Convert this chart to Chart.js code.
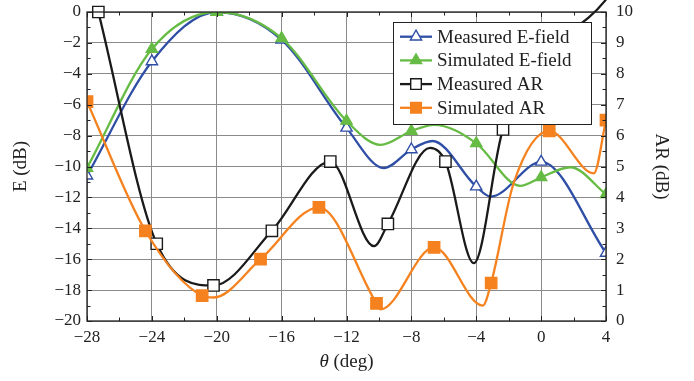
<!DOCTYPE html>
<html>
<head>
  <title>E-field and AR versus angle</title>
  <script src="https://cdn.jsdelivr.net/npm/chart.js"></script>
  <style>
    body { margin: 0; background: #fff; }
  </style>
</head>
<body>
  <canvas id="arChart" width="694" height="381"></canvas>

  <script>
    // angle axis ticks (deg)
    const thetaTicks = [-28, -24, -20, -16, -12, -8, -4, 0, 4];

    // Measured E-field (dB), 1 = marker drawn
    const measEX    = [-28, -24, -20, -16, -12, -9.7, -8, -6.7, -4, -3.1, 0, 4];
    const measEY    = [-10.6, -3.2, 0, -1.8, -7.5, -10.1, -8.9, -8.35, -11.3, -11.95, -9.7, -15.6];
    const measEMark = [1, 1, 1, 1, 1, 0, 1, 0, 1, 0, 1, 1];

    // Simulated E-field (dB)
    const simEX    = [-28, -24, -20, -16, -12, -9.9, -8, -6.6, -4, -1.3, 0, 1.8, 4];
    const simEY    = [-10.1, -2.4, 0, -1.7, -7.05, -8.6, -7.7, -7.3, -8.5, -11.25, -10.7, -10.05, -11.8];
    const simEMark = [1, 1, 1, 1, 1, 0, 1, 0, 1, 0, 1, 0, 1];

    // Measured AR (dB)
    const measARX    = [-27.3, -23.7, -20.2, -16.6, -13, -10.3, -9.45, -6.85, -5.9, -4.15, -2.35, 4];
    const measARY    = [10, 2.5, 1.15, 2.92, 5.16, 2.42, 3.14, 5.6, 5.16, 1.87, 6.2, 10.4];
    const measARMark = [1, 1, 1, 1, 1, 0, 1, 0, 1, 0, 1, 0];

    // Simulated AR (dB)
    const simARX    = [-28, -24.4, -20.9, -20.2, -17.3, -13.7, -10.15, -9.9, -6.6, -3.6, -3.08, -1.7, 0.5, 3.25, 4];
    const simARY    = [7.1, 2.92, 0.82, 0.76, 2.0, 3.68, 0.57, 0.38, 2.38, 0.5, 1.23, 4.45, 6.15, 4.78, 6.5];
    const simARMark = [1, 1, 1, 0, 1, 1, 1, 0, 1, 0, 1, 0, 1, 0, 1];

    const BLUE = '#2f4fa6';
    const GREEN = '#66bb44';
    const BLACK = '#1a1a1a';
    const ORANGE = '#f5821f';
    const FONT = "'Liberation Serif', 'Times New Roman', serif";

    function toPoints(xs, ys) {
      return xs.map((x, i) => ({ x: x, y: ys[i] }));
    }
    function radii(marks, r) {
      return marks.map(m => m ? r : 0);
    }
    function minus(v) {
      return v < 0 ? '\u2212' + Math.abs(v) : String(v);
    }
    // fixed axis widths, no extra label padding above/below the plot
    function fixWidth(w) {
      return s => { s.width = w; s.paddingTop = 0; s.paddingBottom = 0; };
    }

    // box, inward ticks on all four sides
    const frameTicks = {
      id: 'frameTicks',
      afterDatasetsDraw(chart) {
        const { ctx, chartArea: a, scales } = chart;
        ctx.save();
        ctx.strokeStyle = '#222';
        ctx.lineWidth = 1;
        const seg = (x1, y1, x2, y2) => {
          ctx.beginPath(); ctx.moveTo(x1, y1); ctx.lineTo(x2, y2); ctx.stroke();
        };
        for (let v = -28; v <= 4; v += 2) {
          const px = Math.round(scales.x.getPixelForValue(v)) + 0.5;
          const len = v % 4 === 0 ? 5 : 3.5;
          seg(px, a.bottom, px, a.bottom - len);
          seg(px, a.top, px, a.top + len);
        }
        for (let v = -20; v <= 0; v += 1) {
          const py = Math.round(scales.yE.getPixelForValue(v)) + 0.5;
          seg(a.left, py, a.left + (v % 2 === 0 ? 5 : 3.5), py);
        }
        for (let v = 0; v <= 10; v += 0.5) {
          const py = Math.round(scales.yAR.getPixelForValue(v)) + 0.5;
          seg(a.right, py, a.right - (v % 1 === 0 ? 5 : 3.5), py);
        }
        ctx.lineWidth = 1.3;
        ctx.strokeRect(a.left, a.top, a.right - a.left, a.bottom - a.top);
        ctx.restore();
      }
    };

    // boxed legend in the upper right, plus the x title with an italic theta
    const boxLegend = {
      id: 'boxLegend',
      afterDraw(chart) {
        const ctx = chart.ctx;
        const x0 = 393, y0 = 22, w = 198, h = 102, rowH = 23.7;
        ctx.save();
        ctx.fillStyle = '#fff';
        ctx.fillRect(x0, y0, w, h);
        ctx.strokeStyle = '#222';
        ctx.lineWidth = 1;
        ctx.strokeRect(x0 + 0.5, y0 + 0.5, w, h);
        chart.data.datasets.forEach((ds, i) => {
          const y = y0 + 14.7 + i * rowH;
          ctx.strokeStyle = ds.borderColor;
          ctx.lineWidth = ds.borderWidth;
          ctx.beginPath(); ctx.moveTo(x0 + 7, y); ctx.lineTo(x0 + 39, y); ctx.stroke();
          ctx.fillStyle = ds.pointBackgroundColor;
          ctx.strokeStyle = ds.pointBorderColor;
          ctx.lineWidth = ds.pointBorderWidth;
          Chart.helpers.drawPoint(ctx, {
            pointStyle: ds.pointStyle, rotation: 0,
            radius: ds.pointStyle === 'rect' ? 7.5 : 6.5,
            borderWidth: ds.pointBorderWidth
          }, x0 + 23, y);
          ctx.fillStyle = '#222';
          ctx.font = '19px ' + FONT;
          ctx.textBaseline = 'middle';
          ctx.fillText(ds.label, x0 + 44, y + 1);
        });

        // x axis title
        const a = chart.chartArea;
        const cx = (a.left + a.right) / 2;
        ctx.fillStyle = '#222';
        ctx.textBaseline = 'middle';
        const t1 = '\u03b8';
        const t2 = ' (deg)';
        ctx.font = '19px ' + FONT;
        const w2 = ctx.measureText(t2).width;
        ctx.font = 'italic 19px ' + FONT;
        const w1 = ctx.measureText(t1).width;
        const sx = cx - (w1 + w2) / 2;
        ctx.fillText(t1, sx, 362);
        ctx.font = '19px ' + FONT;
        ctx.fillText(t2, sx + w1, 362);
        ctx.restore();
      }
    };

    Chart.defaults.font.family = FONT;
    Chart.defaults.color = '#222';

    const ctx = document.getElementById('arChart').getContext('2d');
    const chart = new Chart(ctx, {
      type: 'line',
      data: {
        datasets: [
          {
            label: 'Measured E-field',
            data: toPoints(measEX, measEY),
            yAxisID: 'yE',
            borderColor: BLUE,
            borderWidth: 2.3,
            pointStyle: 'triangle',
            pointRadius: radii(measEMark, 6.5),
            pointBackgroundColor: '#fff',
            pointBorderColor: BLUE,
            pointBorderWidth: 1.4,
            cubicInterpolationMode: 'monotone',
            order: 4
          },
          {
            label: 'Simulated E-field',
            data: toPoints(simEX, simEY),
            yAxisID: 'yE',
            borderColor: GREEN,
            borderWidth: 2.3,
            pointStyle: 'triangle',
            pointRadius: radii(simEMark, 6.5),
            pointBackgroundColor: GREEN,
            pointBorderColor: GREEN,
            pointBorderWidth: 1.4,
            cubicInterpolationMode: 'monotone',
            order: 3
          },
          {
            label: 'Measured AR',
            data: toPoints(measARX, measARY),
            yAxisID: 'yAR',
            borderColor: BLACK,
            borderWidth: 2.3,
            pointStyle: 'rect',
            pointRadius: radii(measARMark, 8),
            pointBackgroundColor: '#fff',
            pointBorderColor: BLACK,
            pointBorderWidth: 1.4,
            cubicInterpolationMode: 'monotone',
            clip: false,
            order: 2
          },
          {
            label: 'Simulated AR',
            data: toPoints(simARX, simARY),
            yAxisID: 'yAR',
            borderColor: ORANGE,
            borderWidth: 2.3,
            pointStyle: 'rect',
            pointRadius: radii(simARMark, 8),
            pointBackgroundColor: ORANGE,
            pointBorderColor: ORANGE,
            pointBorderWidth: 1.4,
            cubicInterpolationMode: 'monotone',
            order: 1
          }
        ]
      },
      options: {
        responsive: false,
        animation: false,
        layout: { padding: { top: 12, left: 0, right: 0, bottom: 0 } },
        plugins: {
          legend: { display: false },
          tooltip: { enabled: false }
        },
        scales: {
          x: {
            type: 'linear',
            min: thetaTicks[0],
            max: thetaTicks[thetaTicks.length - 1],
            afterBuildTicks: s => { s.ticks = thetaTicks.map(v => ({ value: v })); },
            afterFit: s => { s.height = 60; s.paddingLeft = 0; s.paddingRight = 0; },
            grid: { color: '#8a8a8a', borderDash: [1, 3], drawTicks: false },
            border: { display: false },
            ticks: { padding: 6, font: { size: 17 }, callback: v => minus(v) },
            title: { display: false }
          },
          yE: {
            type: 'linear',
            position: 'left',
            min: -20,
            max: 0,
            afterFit: fixWidth(87),
            grid: { color: '#8a8a8a', borderDash: [1, 3], drawTicks: false },
            border: { display: false },
            ticks: { stepSize: 2, padding: 6, font: { size: 17 }, callback: v => minus(v) },
            title: { display: true, text: 'E (dB)', font: { size: 19 }, padding: { top: 10, bottom: 0 } }
          },
          yAR: {
            type: 'linear',
            position: 'right',
            min: 0,
            max: 10,
            afterFit: fixWidth(88),
            grid: { display: false, drawTicks: false },
            border: { display: false },
            ticks: { stepSize: 1, padding: 10, font: { size: 17 } },
            title: { display: true, text: 'AR (dB)', font: { size: 19 }, padding: { top: 22, bottom: 0 } }
          }
        }
      },
      plugins: [frameTicks, boxLegend]
    });
  </script>
</body>
</html>
